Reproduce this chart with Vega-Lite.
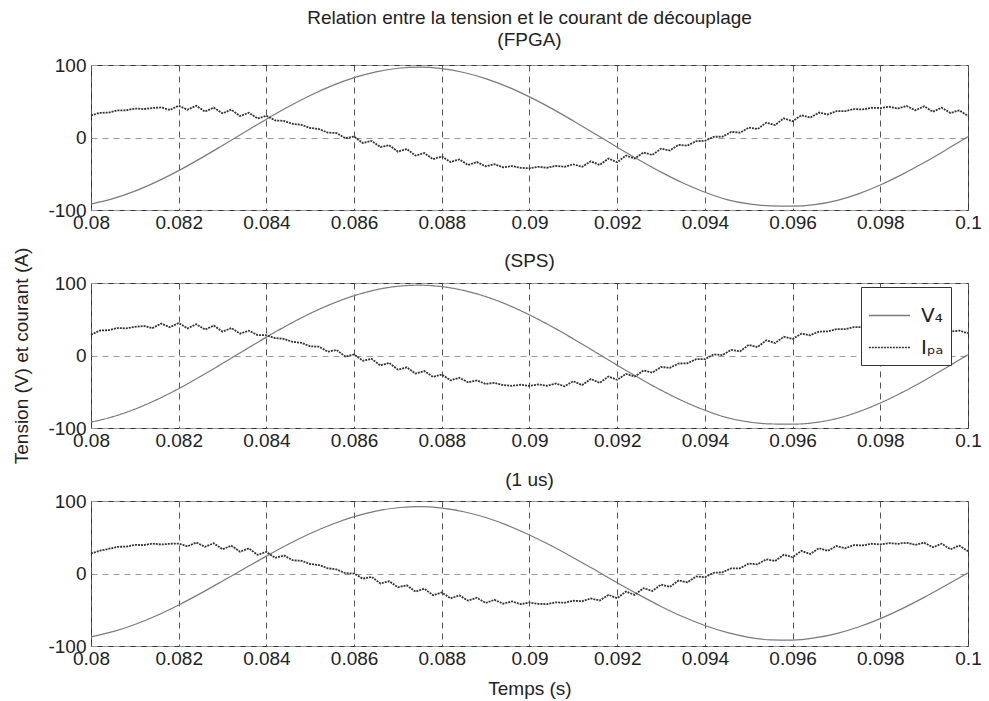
{
"$schema": "https://vega.github.io/schema/vega-lite/v6.json",
"padding": {"left": 12, "top": 8, "right": 5, "bottom": 5},
"spacing": 73,
"bounds": "flush",
"config": {
 "font": "Liberation Sans",
 "view": {"stroke": "#333", "strokeWidth": 1},
 "axis": {"labelFontSize": 19, "labelColor": "#222", "titleFontSize": 19, "titleFontWeight": "normal", "titleColor": "#222", "ticks": false, "domain": false, "grid": true, "gridDash": [6, 5], "gridColor": "#555", "labelPadding": 3, "labelFlush": false, "labelOverlap": false},
 "axisY": {"gridColor": "#999", "labelPadding": 5, "titlePadding": 16},
 "axisX": {"titlePadding": 11},
 "title": {"fontSize": 19, "fontWeight": "normal", "color": "#222", "frame": "group", "offset": 6, "lineHeight": 22}
},
"resolve": {"legend": {"color": "independent", "strokeDash": "independent"}},
"datasets": {
 "v12": [{"t":0.08,"y":-91.9},{"t":0.0805,"y":-84.4},{"t":0.081,"y":-74.0},{"t":0.0815,"y":-60.9},{"t":0.082,"y":-45.7},{"t":0.0825,"y":-28.8},{"t":0.083,"y":-10.9},{"t":0.0835,"y":7.3},{"t":0.084,"y":25.3},{"t":0.0845,"y":42.4},{"t":0.085,"y":58.0},{"t":0.0855,"y":71.5},{"t":0.086,"y":82.5},{"t":0.0865,"y":90.6},{"t":0.087,"y":95.5},{"t":0.0875,"y":97.0},{"t":0.088,"y":95.0},{"t":0.0885,"y":89.7},{"t":0.089,"y":81.3},{"t":0.0895,"y":69.9},{"t":0.09,"y":56.0},{"t":0.0905,"y":40.2},{"t":0.091,"y":22.9},{"t":0.0915,"y":4.9},{"t":0.092,"y":-13.4},{"t":0.0925,"y":-31.1},{"t":0.093,"y":-47.8},{"t":0.0935,"y":-62.8},{"t":0.094,"y":-75.5},{"t":0.0945,"y":-85.6},{"t":0.095,"y":-91.6},{"t":0.0955,"y":-94.4},{"t":0.096,"y":-94.7},{"t":0.0965,"y":-92.6},{"t":0.097,"y":-87.0},{"t":0.0975,"y":-77.7},{"t":0.098,"y":-65.5},{"t":0.0985,"y":-50.9},{"t":0.099,"y":-34.6},{"t":0.0995,"y":-17.0},{"t":0.1,"y":1.2}],
 "v3": [{"t":0.08,"y":-87.3},{"t":0.0805,"y":-80.2},{"t":0.081,"y":-70.3},{"t":0.0815,"y":-57.9},{"t":0.082,"y":-43.4},{"t":0.0825,"y":-27.4},{"t":0.083,"y":-10.4},{"t":0.0835,"y":6.9},{"t":0.084,"y":24.0},{"t":0.0845,"y":40.3},{"t":0.085,"y":55.1},{"t":0.0855,"y":67.9},{"t":0.086,"y":78.4},{"t":0.0865,"y":86.1},{"t":0.087,"y":90.7},{"t":0.0875,"y":92.2},{"t":0.088,"y":90.3},{"t":0.0885,"y":85.2},{"t":0.089,"y":77.2},{"t":0.0895,"y":66.4},{"t":0.09,"y":53.2},{"t":0.0905,"y":38.2},{"t":0.091,"y":21.8},{"t":0.0915,"y":4.7},{"t":0.092,"y":-12.7},{"t":0.0925,"y":-29.5},{"t":0.093,"y":-45.4},{"t":0.0935,"y":-59.7},{"t":0.094,"y":-71.7},{"t":0.0945,"y":-81.3},{"t":0.095,"y":-88.0},{"t":0.0955,"y":-91.6},{"t":0.096,"y":-91.9},{"t":0.0965,"y":-88.9},{"t":0.097,"y":-82.9},{"t":0.0975,"y":-73.8},{"t":0.098,"y":-62.2},{"t":0.0985,"y":-48.4},{"t":0.099,"y":-32.9},{"t":0.0995,"y":-16.2},{"t":0.1,"y":1.1}],
 "i1": [{"t":0.08,"y":30.6},{"t":0.0802,"y":33.9},{"t":0.0804,"y":34.4},{"t":0.0806,"y":37.3},{"t":0.0808,"y":37.5},{"t":0.081,"y":40.0},{"t":0.0812,"y":39.2},{"t":0.0814,"y":40.7},{"t":0.0816,"y":41.5},{"t":0.0818,"y":38.0},{"t":0.082,"y":43.8},{"t":0.0822,"y":38.4},{"t":0.0824,"y":43.7},{"t":0.0826,"y":35.8},{"t":0.0828,"y":41.2},{"t":0.083,"y":33.4},{"t":0.0832,"y":38.4},{"t":0.0834,"y":29.6},{"t":0.0836,"y":34.2},{"t":0.0838,"y":26.2},{"t":0.084,"y":29.9},{"t":0.0842,"y":23.5},{"t":0.0844,"y":22.9},{"t":0.0846,"y":18.8},{"t":0.0848,"y":17.5},{"t":0.085,"y":13.1},{"t":0.0852,"y":11.7},{"t":0.0854,"y":6.7},{"t":0.0856,"y":6.1},{"t":0.0858,"y":-1.0},{"t":0.086,"y":1.4},{"t":0.0862,"y":-7.7},{"t":0.0864,"y":-4.7},{"t":0.0866,"y":-13.2},{"t":0.0868,"y":-10.7},{"t":0.087,"y":-19.5},{"t":0.0872,"y":-15.8},{"t":0.0874,"y":-25.0},{"t":0.0876,"y":-21.5},{"t":0.0878,"y":-29.9},{"t":0.088,"y":-26.2},{"t":0.0882,"y":-33.8},{"t":0.0884,"y":-30.2},{"t":0.0886,"y":-37.9},{"t":0.0888,"y":-33.9},{"t":0.089,"y":-39.7},{"t":0.0892,"y":-36.8},{"t":0.0894,"y":-41.2},{"t":0.0896,"y":-39.4},{"t":0.0898,"y":-41.8},{"t":0.09,"y":-42.5},{"t":0.0902,"y":-40.4},{"t":0.0904,"y":-41.7},{"t":0.0906,"y":-39.2},{"t":0.0908,"y":-40.4},{"t":0.091,"y":-37.0},{"t":0.0912,"y":-40.3},{"t":0.0914,"y":-32.9},{"t":0.0916,"y":-37.8},{"t":0.0918,"y":-29.0},{"t":0.092,"y":-34.1},{"t":0.0922,"y":-24.9},{"t":0.0924,"y":-29.1},{"t":0.0926,"y":-20.7},{"t":0.0928,"y":-24.1},{"t":0.093,"y":-15.4},{"t":0.0932,"y":-18.0},{"t":0.0934,"y":-10.1},{"t":0.0936,"y":-11.2},{"t":0.0938,"y":-5.1},{"t":0.094,"y":-4.6},{"t":0.0942,"y":1.0},{"t":0.0944,"y":1.1},{"t":0.0946,"y":7.7},{"t":0.0948,"y":6.7},{"t":0.095,"y":13.7},{"t":0.0952,"y":11.6},{"t":0.0954,"y":20.5},{"t":0.0956,"y":17.2},{"t":0.0958,"y":26.4},{"t":0.096,"y":22.4},{"t":0.0962,"y":30.7},{"t":0.0964,"y":27.4},{"t":0.0966,"y":34.4},{"t":0.0968,"y":31.8},{"t":0.097,"y":36.4},{"t":0.0972,"y":36.4},{"t":0.0974,"y":39.2},{"t":0.0976,"y":38.7},{"t":0.0978,"y":41.0},{"t":0.098,"y":40.6},{"t":0.0982,"y":42.4},{"t":0.0984,"y":40.0},{"t":0.0986,"y":43.4},{"t":0.0988,"y":37.5},{"t":0.099,"y":43.0},{"t":0.0992,"y":35.6},{"t":0.0994,"y":41.1},{"t":0.0996,"y":33.9},{"t":0.0998,"y":37.4},{"t":0.1,"y":29.7}],
 "i2": [{"t":0.08,"y":28.6},{"t":0.0802,"y":34.4},{"t":0.0804,"y":34.9},{"t":0.0806,"y":37.8},{"t":0.0808,"y":37.5},{"t":0.081,"y":39.5},{"t":0.0812,"y":40.7},{"t":0.0814,"y":37.7},{"t":0.0816,"y":44.0},{"t":0.0818,"y":39.0},{"t":0.082,"y":44.8},{"t":0.0822,"y":37.4},{"t":0.0824,"y":43.2},{"t":0.0826,"y":35.8},{"t":0.0828,"y":41.2},{"t":0.083,"y":32.9},{"t":0.0832,"y":37.9},{"t":0.0834,"y":30.1},{"t":0.0836,"y":34.2},{"t":0.0838,"y":28.2},{"t":0.084,"y":27.9},{"t":0.0842,"y":24.0},{"t":0.0844,"y":22.9},{"t":0.0846,"y":18.8},{"t":0.0848,"y":17.5},{"t":0.085,"y":12.6},{"t":0.0852,"y":12.2},{"t":0.0854,"y":5.2},{"t":0.0856,"y":7.6},{"t":0.0858,"y":-1.5},{"t":0.086,"y":1.4},{"t":0.0862,"y":-7.2},{"t":0.0864,"y":-4.7},{"t":0.0866,"y":-13.7},{"t":0.0868,"y":-10.2},{"t":0.087,"y":-19.5},{"t":0.0872,"y":-16.3},{"t":0.0874,"y":-25.0},{"t":0.0876,"y":-21.5},{"t":0.0878,"y":-29.4},{"t":0.088,"y":-26.2},{"t":0.0882,"y":-34.3},{"t":0.0884,"y":-30.7},{"t":0.0886,"y":-36.9},{"t":0.0888,"y":-34.4},{"t":0.089,"y":-39.2},{"t":0.0892,"y":-37.8},{"t":0.0894,"y":-40.7},{"t":0.0896,"y":-41.9},{"t":0.0898,"y":-40.3},{"t":0.09,"y":-42.0},{"t":0.0902,"y":-39.9},{"t":0.0904,"y":-41.7},{"t":0.0906,"y":-38.7},{"t":0.0908,"y":-42.4},{"t":0.091,"y":-35.5},{"t":0.0912,"y":-40.8},{"t":0.0914,"y":-32.4},{"t":0.0916,"y":-37.8},{"t":0.0918,"y":-29.0},{"t":0.092,"y":-33.6},{"t":0.0922,"y":-25.4},{"t":0.0924,"y":-29.1},{"t":0.0926,"y":-20.7},{"t":0.0928,"y":-23.6},{"t":0.093,"y":-15.9},{"t":0.0932,"y":-17.0},{"t":0.0934,"y":-11.1},{"t":0.0936,"y":-10.7},{"t":0.0938,"y":-5.1},{"t":0.094,"y":-5.1},{"t":0.0942,"y":1.5},{"t":0.0944,"y":0.6},{"t":0.0946,"y":7.7},{"t":0.0948,"y":5.7},{"t":0.095,"y":14.7},{"t":0.0952,"y":11.6},{"t":0.0954,"y":21.0},{"t":0.0956,"y":17.2},{"t":0.0958,"y":25.9},{"t":0.096,"y":22.9},{"t":0.0962,"y":30.2},{"t":0.0964,"y":27.9},{"t":0.0966,"y":32.9},{"t":0.0968,"y":33.3},{"t":0.097,"y":36.4},{"t":0.0972,"y":36.4},{"t":0.0974,"y":39.2},{"t":0.0976,"y":39.2},{"t":0.0978,"y":41.5},{"t":0.098,"y":39.6},{"t":0.0982,"y":43.4},{"t":0.0984,"y":38.0},{"t":0.0986,"y":43.9},{"t":0.0988,"y":37.0},{"t":0.099,"y":43.0},{"t":0.0992,"y":36.1},{"t":0.0994,"y":40.1},{"t":0.0996,"y":32.9},{"t":0.0998,"y":34.4},{"t":0.1,"y":30.7}],
 "i3": [{"t":0.08,"y":27.6},{"t":0.0802,"y":31.4},{"t":0.0804,"y":33.9},{"t":0.0806,"y":36.8},{"t":0.0808,"y":37.0},{"t":0.081,"y":39.5},{"t":0.0812,"y":39.2},{"t":0.0814,"y":41.2},{"t":0.0816,"y":40.0},{"t":0.0818,"y":41.0},{"t":0.082,"y":41.3},{"t":0.0822,"y":37.4},{"t":0.0824,"y":42.7},{"t":0.0826,"y":36.8},{"t":0.0828,"y":41.7},{"t":0.083,"y":33.4},{"t":0.0832,"y":38.4},{"t":0.0834,"y":30.1},{"t":0.0836,"y":34.7},{"t":0.0838,"y":25.7},{"t":0.084,"y":29.9},{"t":0.0842,"y":21.5},{"t":0.0844,"y":24.9},{"t":0.0846,"y":18.3},{"t":0.0848,"y":17.5},{"t":0.085,"y":13.1},{"t":0.0852,"y":11.7},{"t":0.0854,"y":7.2},{"t":0.0856,"y":5.6},{"t":0.0858,"y":0.5},{"t":0.086,"y":-0.1},{"t":0.0862,"y":-7.2},{"t":0.0864,"y":-4.7},{"t":0.0866,"y":-13.7},{"t":0.0868,"y":-10.7},{"t":0.087,"y":-19.0},{"t":0.0872,"y":-16.3},{"t":0.0874,"y":-25.0},{"t":0.0876,"y":-21.0},{"t":0.0878,"y":-29.9},{"t":0.088,"y":-26.2},{"t":0.0882,"y":-34.3},{"t":0.0884,"y":-30.2},{"t":0.0886,"y":-37.4},{"t":0.0888,"y":-33.4},{"t":0.089,"y":-40.7},{"t":0.0892,"y":-36.3},{"t":0.0894,"y":-41.7},{"t":0.0896,"y":-38.4},{"t":0.0898,"y":-42.3},{"t":0.09,"y":-40.0},{"t":0.0902,"y":-41.9},{"t":0.0904,"y":-42.2},{"t":0.0906,"y":-39.7},{"t":0.0908,"y":-40.4},{"t":0.091,"y":-37.5},{"t":0.0912,"y":-38.3},{"t":0.0914,"y":-34.4},{"t":0.0916,"y":-37.3},{"t":0.0918,"y":-29.5},{"t":0.092,"y":-34.1},{"t":0.0922,"y":-24.9},{"t":0.0924,"y":-29.6},{"t":0.0926,"y":-20.2},{"t":0.0928,"y":-24.1},{"t":0.093,"y":-15.4},{"t":0.0932,"y":-18.5},{"t":0.0934,"y":-9.6},{"t":0.0936,"y":-12.2},{"t":0.0938,"y":-4.1},{"t":0.094,"y":-5.1},{"t":0.0942,"y":1.0},{"t":0.0944,"y":1.6},{"t":0.0946,"y":7.2},{"t":0.0948,"y":7.2},{"t":0.095,"y":13.7},{"t":0.0952,"y":12.6},{"t":0.0954,"y":19.5},{"t":0.0956,"y":17.2},{"t":0.0958,"y":25.9},{"t":0.096,"y":22.4},{"t":0.0962,"y":31.2},{"t":0.0964,"y":26.9},{"t":0.0966,"y":34.9},{"t":0.0968,"y":31.3},{"t":0.097,"y":37.9},{"t":0.0972,"y":34.9},{"t":0.0974,"y":39.2},{"t":0.0976,"y":38.7},{"t":0.0978,"y":41.0},{"t":0.098,"y":40.1},{"t":0.0982,"y":41.9},{"t":0.0984,"y":41.0},{"t":0.0986,"y":42.4},{"t":0.0988,"y":39.5},{"t":0.099,"y":42.5},{"t":0.0992,"y":36.1},{"t":0.0994,"y":41.1},{"t":0.0996,"y":33.4},{"t":0.0998,"y":38.4},{"t":0.1,"y":30.7}]
},
"vconcat": [
 {
  "width": 877, "height": 145,
  "title": {"text": ["Relation entre la tension et le courant de découplage", "(FPGA)"]},
  "encoding": {
   "x": {"field": "t", "type": "quantitative", "scale": {"domain": [0.08, 0.1], "nice": false, "zero": false}, "axis": {"values": [0.08, 0.082, 0.084, 0.086, 0.088, 0.09, 0.092, 0.094, 0.096, 0.098, 0.1], "format": ".3~f", "title": null}},
   "y": {"field": "y", "type": "quantitative", "scale": {"domain": [-100, 100], "nice": false}, "axis": {"values": [-100, 0, 100], "labelExpr": "replace(datum.label, '−', '-')", "title": null}}
  },
  "layer": [
   {"data": {"name": "v12"}, "mark": {"type": "line", "color": "#7a7a7a", "strokeWidth": 1.2, "interpolate": "monotone"}},
   {"data": {"name": "i1"}, "mark": {"type": "line", "color": "#333", "strokeWidth": 1.8, "strokeDash": [2, 1]}}
  ]
 },
 {
  "width": 877, "height": 145,
  "title": {"text": "(SPS)", "offset": -24},
  "encoding": {
   "x": {"field": "t", "type": "quantitative", "scale": {"domain": [0.08, 0.1], "nice": false, "zero": false}, "axis": {"values": [0.08, 0.082, 0.084, 0.086, 0.088, 0.09, 0.092, 0.094, 0.096, 0.098, 0.1], "format": ".3~f", "title": null}},
   "y": {"field": "y", "type": "quantitative", "scale": {"domain": [-100, 100], "nice": false}, "axis": {"values": [-100, 0, 100], "labelExpr": "replace(datum.label, '−', '-')", "title": "Tension (V) et courant (A)"}}
  },
  "layer": [
   {"data": {"name": "v12"}, "mark": {"type": "line", "strokeWidth": 1.2, "interpolate": "monotone"},
    "encoding": {
     "color": {"datum": "V₄", "type": "nominal", "scale": {"domain": ["V₄", "Iₚₐ"], "range": ["#7a7a7a", "#333333"]}, "legend": {"title": null, "orient": "none", "legendX": 770, "legendY": 4, "symbolType": "stroke", "symbolSize": 1700, "symbolStrokeWidth": 1.5, "labelFontSize": 20, "labelFont": "DejaVu Sans", "labelColor": "#222", "strokeColor": "#333", "fillColor": "white", "padding": 7, "rowPadding": 0, "labelOffset": 10}},
     "strokeDash": {"datum": "V₄", "type": "nominal", "scale": {"domain": ["V₄", "Iₚₐ"], "range": [[1, 0], [2, 1]]}, "legend": {"title": null, "orient": "none", "legendX": 770, "legendY": 4, "symbolType": "stroke", "symbolSize": 1700, "symbolStrokeWidth": 1.5, "labelFontSize": 20, "labelFont": "DejaVu Sans", "labelColor": "#222", "strokeColor": "#333", "fillColor": "white", "padding": 7, "rowPadding": 0, "labelOffset": 10}}
    }},
   {"data": {"name": "i2"}, "mark": {"type": "line", "strokeWidth": 1.8},
    "encoding": {
     "color": {"datum": "Iₚₐ", "type": "nominal"},
     "strokeDash": {"datum": "Iₚₐ", "type": "nominal"}
    }}
  ]
 },
 {
  "width": 877, "height": 145,
  "title": {"text": "(1 us)", "offset": 2},
  "encoding": {
   "x": {"field": "t", "type": "quantitative", "scale": {"domain": [0.08, 0.1], "nice": false, "zero": false}, "axis": {"values": [0.08, 0.082, 0.084, 0.086, 0.088, 0.09, 0.092, 0.094, 0.096, 0.098, 0.1], "format": ".3~f", "title": "Temps (s)"}},
   "y": {"field": "y", "type": "quantitative", "scale": {"domain": [-100, 100], "nice": false}, "axis": {"values": [-100, 0, 100], "labelExpr": "replace(datum.label, '−', '-')", "title": null}}
  },
  "layer": [
   {"data": {"name": "v3"}, "mark": {"type": "line", "color": "#7a7a7a", "strokeWidth": 1.2, "interpolate": "monotone"}},
   {"data": {"name": "i3"}, "mark": {"type": "line", "color": "#333", "strokeWidth": 1.8, "strokeDash": [2, 1]}}
  ]
 }
]
}
